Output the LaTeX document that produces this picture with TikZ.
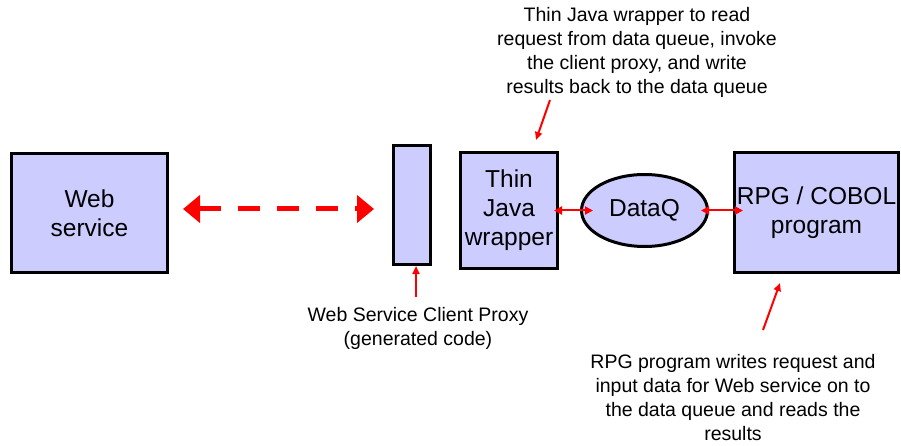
\documentclass[tikz,border=0pt]{standalone}
\usepackage{fontspec}
\setmainfont{Liberation Sans}
\usetikzlibrary{arrows.meta,shapes.geometric}
\definecolor{boxblue}{RGB}{204,204,255}
\begin{document}
\begin{tikzpicture}[x=1pt,y=-1pt]
\tikzstyle{box}=[rectangle,draw=black,line width=3pt,fill=boxblue,inner sep=0pt,align=center,font=\fontsize{24.5}{29}\selectfont]
\tikzstyle{note}=[align=center,inner sep=0pt,font=\fontsize{19.5}{24}\selectfont]
\tikzstyle{link}=[red,line width=2pt,{Triangle[length=8pt,width=8pt]}-{Triangle[length=8pt,width=8pt]}]
\tikzstyle{callout}=[red,line width=2pt,-{Triangle[length=8pt,width=7pt]}]
\useasboundingbox (0,0) rectangle (901,446);
\node[box,minimum width=156,minimum height=119] (web) at (89.5,213) {Web\\service};
\node[box,minimum width=37,minimum height=119] (proxy) at (412,205) {};
\node[box,minimum width=97,minimum height=116] (wrap) at (509,210.5) {Thin\\Java\\wrapper};
\node[box,ellipse,minimum width=126,minimum height=72] (dataq) at (644.5,210.5) {DataQ};
\node[box,minimum width=164,minimum height=120] (rpg) at (816.5,212.5) {RPG / COBOL\\program};
\node[note] (wrapnote) at (637,52) {Thin Java wrapper to read\\request from data queue, invoke\\the client proxy, and write\\results back to the data queue};
\node[note] (proxynote) at (418,328) {Web Service Client Proxy\\(generated code)};
\node[note] (rpgnote) at (733,398) {RPG program writes request and\\input data for Web service on to\\the data queue and reads the\\results};
\coordinate (wraptail) at (550,100);
\coordinate (wraptip) at (536,140);
\coordinate (rpgtail) at (763,330);
\coordinate (rpgtip) at (780,283);
\coordinate (proxytail) at (416,297);
% connectors
\draw[red,line width=5pt,dash pattern=on 22pt off 17pt,{Triangle[length=17pt,width=27pt]}-{Triangle[length=17pt,width=27pt]},shorten <=14pt,shorten >=18pt] ([yshift=4pt]web.east) -- ([yshift=4pt]web.east -| proxy.west);
\draw[link,shorten <=-5pt,shorten >=-13pt] (wrap.east) -- (dataq.west);
\draw[link,shorten <=-8pt,shorten >=-10pt] (dataq.east) -- (dataq.east -| rpg.west);
\draw[callout] (wraptail) -- (wraptip);
\draw[callout] (rpgtail) -- (rpgtip);
\draw[callout] (proxytail) -- (proxytail |- proxy.south);
\end{tikzpicture}
\end{document}
